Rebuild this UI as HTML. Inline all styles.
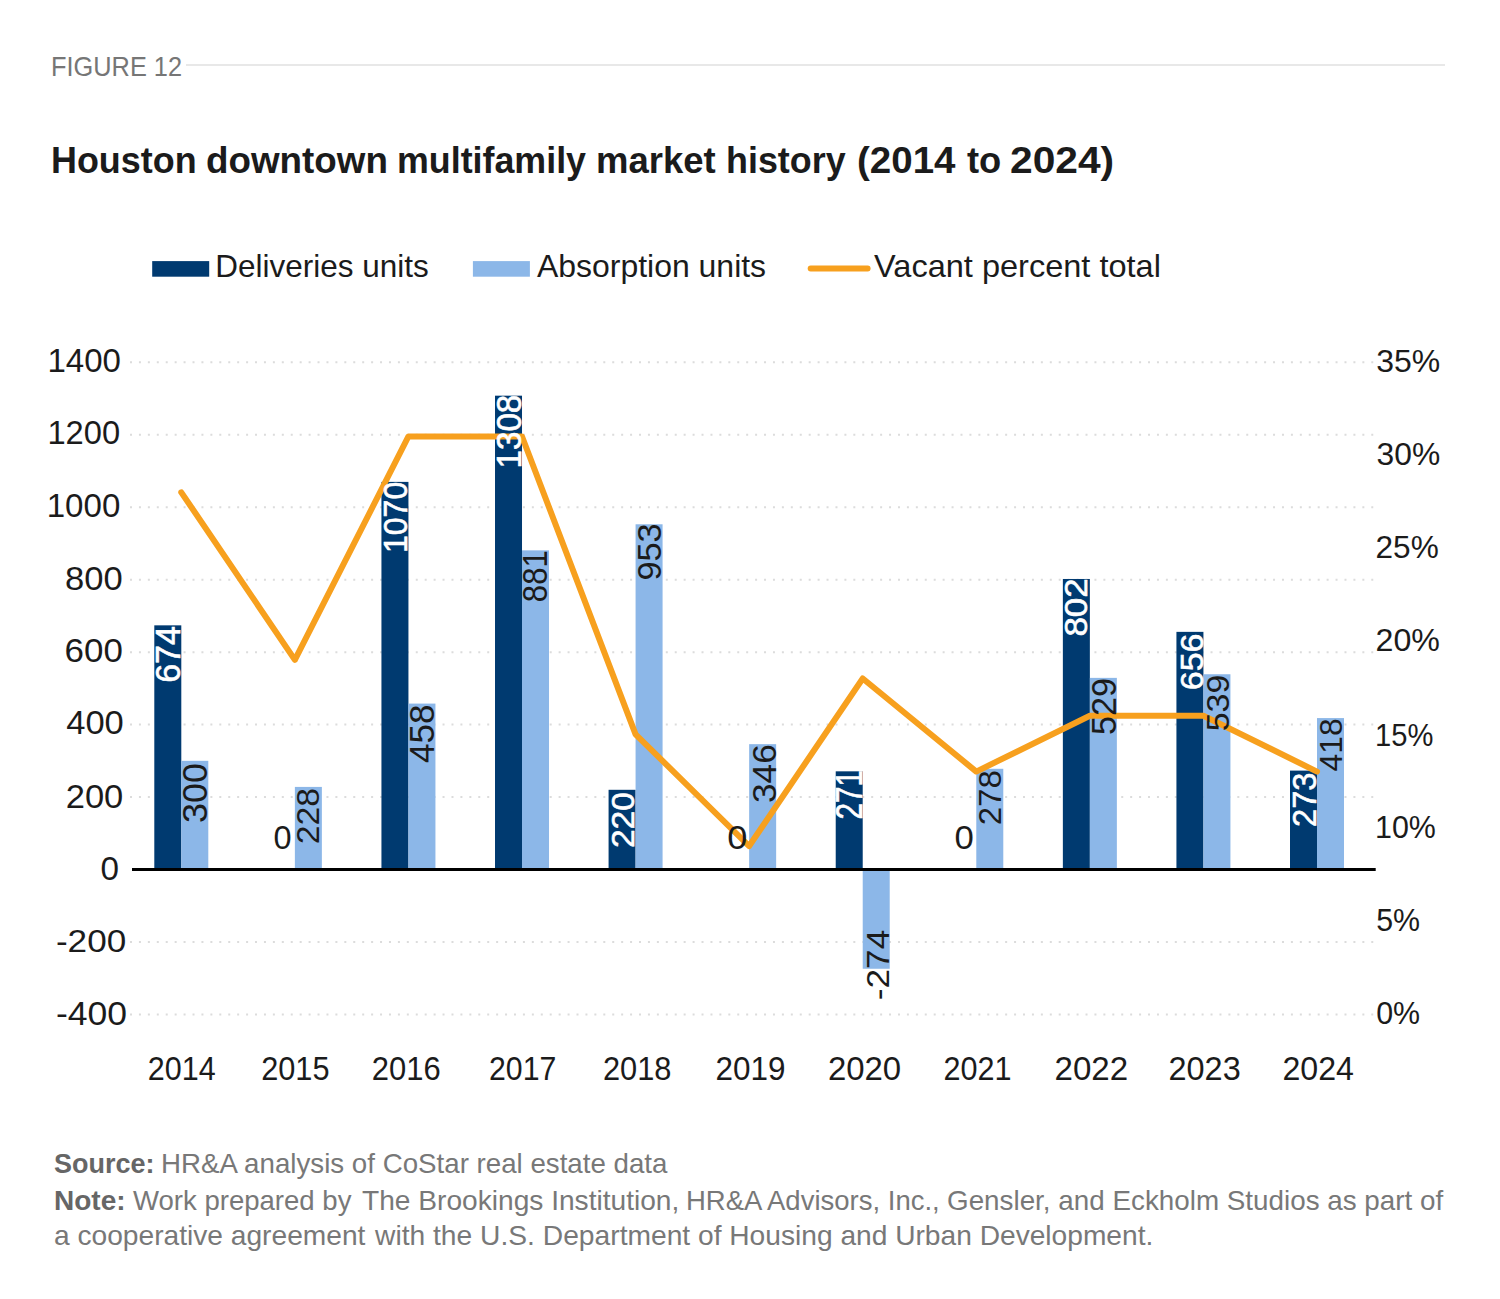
<!DOCTYPE html><html><head><meta charset="utf-8"><style>html,body{margin:0;padding:0;background:#fff;}body{width:1500px;height:1299px;overflow:hidden;position:relative;}svg{position:absolute;left:0;top:0;display:block;}text{font-family:"Liberation Sans",sans-serif;}</style></head><body>
<svg width="1500" height="1299" viewBox="0 0 1500 1299">
<text x="51.00" y="76.00" font-size="27.80" fill="#767676" textLength="131.09" lengthAdjust="spacingAndGlyphs">FIGURE 12</text>
<rect x="186" y="64.2" width="1259" height="1.6" fill="#e3e3e3"/>
<text x="51.00" y="173.40" font-size="36.30" fill="#1b1b1b" font-weight="bold" textLength="145.59" lengthAdjust="spacingAndGlyphs">Houston</text>
<text x="206.00" y="173.40" font-size="36.30" fill="#1b1b1b" font-weight="bold" textLength="181.91" lengthAdjust="spacingAndGlyphs">downtown</text>
<text x="397.00" y="173.40" font-size="36.30" fill="#1b1b1b" font-weight="bold" textLength="189.03" lengthAdjust="spacingAndGlyphs">multifamily</text>
<text x="596.00" y="173.40" font-size="36.30" fill="#1b1b1b" font-weight="bold" textLength="119.64" lengthAdjust="spacingAndGlyphs">market</text>
<text x="726.00" y="173.40" font-size="36.30" fill="#1b1b1b" font-weight="bold" textLength="119.63" lengthAdjust="spacingAndGlyphs">history</text>
<text x="857.00" y="173.40" font-size="36.30" fill="#1b1b1b" font-weight="bold" textLength="98.48" lengthAdjust="spacingAndGlyphs">(2014</text>
<text x="967.00" y="173.40" font-size="36.30" fill="#1b1b1b" font-weight="bold" textLength="34.31" lengthAdjust="spacingAndGlyphs">to</text>
<text x="1010.00" y="173.40" font-size="36.30" fill="#1b1b1b" font-weight="bold" textLength="104.18" lengthAdjust="spacingAndGlyphs">2024)</text>
<rect x="152.2" y="261.1" width="57" height="15.6" fill="#003a70"/>
<text x="215.30" y="277.30" font-size="30.50" fill="#1b1b1b" textLength="213.57" lengthAdjust="spacingAndGlyphs">Deliveries units</text>
<rect x="472.9" y="261.1" width="57" height="15.6" fill="#8cb7e8"/>
<text x="537.00" y="277.30" font-size="30.50" fill="#1b1b1b" textLength="229.09" lengthAdjust="spacingAndGlyphs">Absorption units</text>
<line x1="810.7" y1="268.6" x2="867.6" y2="268.6" stroke="#f7a01e" stroke-width="6" stroke-linecap="round"/>
<text x="874.10" y="277.30" font-size="30.50" fill="#1b1b1b" textLength="286.79" lengthAdjust="spacingAndGlyphs">Vacant percent total</text>
<line x1="130" y1="362.35" x2="1374" y2="362.35" stroke="#dcdcdc" stroke-width="2" stroke-dasharray="2 6.93"/>
<line x1="130" y1="434.80" x2="1374" y2="434.80" stroke="#dcdcdc" stroke-width="2" stroke-dasharray="2 6.93"/>
<line x1="130" y1="507.25" x2="1374" y2="507.25" stroke="#dcdcdc" stroke-width="2" stroke-dasharray="2 6.93"/>
<line x1="130" y1="579.70" x2="1374" y2="579.70" stroke="#dcdcdc" stroke-width="2" stroke-dasharray="2 6.93"/>
<line x1="130" y1="652.15" x2="1374" y2="652.15" stroke="#dcdcdc" stroke-width="2" stroke-dasharray="2 6.93"/>
<line x1="130" y1="724.60" x2="1374" y2="724.60" stroke="#dcdcdc" stroke-width="2" stroke-dasharray="2 6.93"/>
<line x1="130" y1="797.05" x2="1374" y2="797.05" stroke="#dcdcdc" stroke-width="2" stroke-dasharray="2 6.93"/>
<line x1="130" y1="941.95" x2="1374" y2="941.95" stroke="#dcdcdc" stroke-width="2" stroke-dasharray="2 6.93"/>
<line x1="130" y1="1014.40" x2="1374" y2="1014.40" stroke="#dcdcdc" stroke-width="2" stroke-dasharray="2 6.93"/>
<rect x="154.30" y="625.34" width="27.0" height="244.16" fill="#003a70"/>
<rect x="181.30" y="760.83" width="27.0" height="108.67" fill="#8cb7e8"/>
<rect x="294.87" y="786.91" width="27.0" height="82.59" fill="#8cb7e8"/>
<rect x="381.44" y="481.89" width="27.0" height="387.61" fill="#003a70"/>
<rect x="408.44" y="703.59" width="27.0" height="165.91" fill="#8cb7e8"/>
<rect x="495.01" y="395.68" width="27.0" height="473.82" fill="#003a70"/>
<rect x="522.01" y="550.36" width="27.0" height="319.14" fill="#8cb7e8"/>
<rect x="608.58" y="789.80" width="27.0" height="79.70" fill="#003a70"/>
<rect x="635.58" y="524.28" width="27.0" height="345.22" fill="#8cb7e8"/>
<rect x="749.15" y="744.16" width="27.0" height="125.34" fill="#8cb7e8"/>
<rect x="835.72" y="771.33" width="27.0" height="98.17" fill="#003a70"/>
<rect x="862.72" y="869.50" width="27.0" height="99.26" fill="#8cb7e8"/>
<rect x="976.29" y="768.79" width="27.0" height="100.71" fill="#8cb7e8"/>
<rect x="1062.86" y="578.98" width="27.0" height="290.52" fill="#003a70"/>
<rect x="1089.86" y="677.87" width="27.0" height="191.63" fill="#8cb7e8"/>
<rect x="1176.43" y="631.86" width="27.0" height="237.64" fill="#003a70"/>
<rect x="1203.43" y="674.25" width="27.0" height="195.25" fill="#8cb7e8"/>
<rect x="1290.00" y="770.61" width="27.0" height="98.89" fill="#003a70"/>
<rect x="1317.00" y="718.08" width="27.0" height="151.42" fill="#8cb7e8"/>
<rect x="132" y="868.00" width="1243.7" height="3" fill="#000"/>
<polyline points="181.30,492.32 294.87,659.87 408.44,436.47 522.01,436.47 635.58,734.34 749.15,846.05 862.72,678.49 976.29,771.58 1089.86,715.73 1203.43,715.73 1317.00,771.58" fill="none" stroke="#f7a01e" stroke-width="6" stroke-linejoin="round" stroke-linecap="round"/>
<text x="47.40" y="372.00" font-size="32.90" fill="#1b1b1b" textLength="73.53" lengthAdjust="spacingAndGlyphs">1400</text>
<text x="47.40" y="444.00" font-size="32.90" fill="#1b1b1b" textLength="72.75" lengthAdjust="spacingAndGlyphs">1200</text>
<text x="46.70" y="516.90" font-size="32.90" fill="#1b1b1b" textLength="73.59" lengthAdjust="spacingAndGlyphs">1000</text>
<text x="65.10" y="589.50" font-size="32.93" fill="#1b1b1b" textLength="57.66" lengthAdjust="spacingAndGlyphs">800</text>
<text x="64.60" y="662.10" font-size="32.95" fill="#1b1b1b" textLength="58.30" lengthAdjust="spacingAndGlyphs">600</text>
<text x="66.20" y="734.40" font-size="32.98" fill="#1b1b1b" textLength="57.64" lengthAdjust="spacingAndGlyphs">400</text>
<text x="65.70" y="807.60" font-size="32.90" fill="#1b1b1b" textLength="57.66" lengthAdjust="spacingAndGlyphs">200</text>
<text x="100.40" y="879.50" font-size="32.95" fill="#1b1b1b" textLength="18.49" lengthAdjust="spacingAndGlyphs">0</text>
<text x="55.90" y="952.20" font-size="31.50" fill="#1b1b1b" textLength="70.33" lengthAdjust="spacingAndGlyphs">-200</text>
<text x="55.90" y="1024.90" font-size="32.97" fill="#1b1b1b" textLength="71.16" lengthAdjust="spacingAndGlyphs">-400</text>
<text x="1376.30" y="372.00" font-size="32.18" fill="#1b1b1b" textLength="64.03" lengthAdjust="spacingAndGlyphs">35%</text>
<text x="1376.50" y="464.60" font-size="32.15" fill="#1b1b1b" textLength="63.67" lengthAdjust="spacingAndGlyphs">30%</text>
<text x="1375.50" y="558.00" font-size="32.15" fill="#1b1b1b" textLength="63.23" lengthAdjust="spacingAndGlyphs">25%</text>
<text x="1375.50" y="651.40" font-size="32.15" fill="#1b1b1b" textLength="64.38" lengthAdjust="spacingAndGlyphs">20%</text>
<text x="1375.00" y="746.20" font-size="32.15" fill="#1b1b1b" textLength="58.29" lengthAdjust="spacingAndGlyphs">15%</text>
<text x="1375.00" y="838.30" font-size="32.15" fill="#1b1b1b" textLength="60.86" lengthAdjust="spacingAndGlyphs">10%</text>
<text x="1376.20" y="931.30" font-size="32.17" fill="#1b1b1b" textLength="43.91" lengthAdjust="spacingAndGlyphs">5%</text>
<text x="1376.20" y="1024.40" font-size="32.15" fill="#1b1b1b" textLength="43.93" lengthAdjust="spacingAndGlyphs">0%</text>
<text x="147.80" y="1079.50" font-size="32.35" fill="#1b1b1b" textLength="67.88" lengthAdjust="spacingAndGlyphs">2014</text>
<text x="261.20" y="1079.50" font-size="32.35" fill="#1b1b1b" textLength="68.37" lengthAdjust="spacingAndGlyphs">2015</text>
<text x="371.80" y="1079.50" font-size="32.35" fill="#1b1b1b" textLength="68.93" lengthAdjust="spacingAndGlyphs">2016</text>
<text x="489.00" y="1079.50" font-size="32.35" fill="#1b1b1b" textLength="67.26" lengthAdjust="spacingAndGlyphs">2017</text>
<text x="602.90" y="1079.50" font-size="32.35" fill="#1b1b1b" textLength="68.51" lengthAdjust="spacingAndGlyphs">2018</text>
<text x="715.50" y="1079.50" font-size="32.35" fill="#1b1b1b" textLength="69.96" lengthAdjust="spacingAndGlyphs">2019</text>
<text x="827.90" y="1079.50" font-size="32.35" fill="#1b1b1b" textLength="73.31" lengthAdjust="spacingAndGlyphs">2020</text>
<text x="943.50" y="1079.50" font-size="32.35" fill="#1b1b1b" textLength="68.08" lengthAdjust="spacingAndGlyphs">2021</text>
<text x="1054.50" y="1079.50" font-size="32.35" fill="#1b1b1b" textLength="73.59" lengthAdjust="spacingAndGlyphs">2022</text>
<text x="1168.50" y="1079.50" font-size="32.35" fill="#1b1b1b" textLength="72.23" lengthAdjust="spacingAndGlyphs">2023</text>
<text x="1282.40" y="1079.50" font-size="32.35" fill="#1b1b1b" textLength="71.49" lengthAdjust="spacingAndGlyphs">2024</text>
<text transform="translate(180.20,682.80) rotate(-90)" font-size="35.06" fill="#fff" stroke="#fff" stroke-width="0.6" textLength="56.75" lengthAdjust="spacingAndGlyphs">674</text>
<text transform="translate(207.40,822.90) rotate(-90)" font-size="35.13" fill="#1b1b1b" textLength="59.95" lengthAdjust="spacingAndGlyphs">300</text>
<text transform="translate(319.10,844.30) rotate(-90)" font-size="30.86" fill="#1b1b1b" textLength="56.23" lengthAdjust="spacingAndGlyphs">228</text>
<text transform="translate(407.30,553.00) rotate(-90)" font-size="33.63" fill="#fff" stroke="#fff" stroke-width="0.6" textLength="71.21" lengthAdjust="spacingAndGlyphs">1070</text>
<text transform="translate(434.10,763.00) rotate(-90)" font-size="35.30" fill="#1b1b1b" textLength="58.49" lengthAdjust="spacingAndGlyphs">458</text>
<text transform="translate(520.50,468.50) rotate(-90)" font-size="35.13" fill="#fff" stroke="#fff" stroke-width="0.6" textLength="73.77" lengthAdjust="spacingAndGlyphs">1308</text>
<text transform="translate(547.00,602.20) rotate(-90)" font-size="35.09" fill="#1b1b1b" textLength="51.98" lengthAdjust="spacingAndGlyphs">881</text>
<text transform="translate(633.70,848.00) rotate(-90)" font-size="32.22" fill="#fff" stroke="#fff" stroke-width="0.6" textLength="55.86" lengthAdjust="spacingAndGlyphs">220</text>
<text transform="translate(661.20,580.60) rotate(-90)" font-size="33.60" fill="#1b1b1b" textLength="57.23" lengthAdjust="spacingAndGlyphs">953</text>
<text transform="translate(775.70,803.10) rotate(-90)" font-size="33.63" fill="#1b1b1b" textLength="58.89" lengthAdjust="spacingAndGlyphs">346</text>
<text transform="translate(862.20,819.50) rotate(-90)" font-size="36.72" fill="#fff" stroke="#fff" stroke-width="0.6" textLength="49.44" lengthAdjust="spacingAndGlyphs">271</text>
<text transform="translate(888.80,1000.30) rotate(-90)" font-size="32.21" fill="#1b1b1b" textLength="70.69" lengthAdjust="spacingAndGlyphs">-274</text>
<text transform="translate(1001.40,825.30) rotate(-90)" font-size="32.22" fill="#1b1b1b" textLength="55.14" lengthAdjust="spacingAndGlyphs">278</text>
<text transform="translate(1087.30,636.60) rotate(-90)" font-size="32.17" fill="#fff" stroke="#fff" stroke-width="0.6" textLength="58.29" lengthAdjust="spacingAndGlyphs">802</text>
<text transform="translate(1115.50,735.00) rotate(-90)" font-size="35.09" fill="#1b1b1b" textLength="57.07" lengthAdjust="spacingAndGlyphs">529</text>
<text transform="translate(1202.80,690.20) rotate(-90)" font-size="32.17" fill="#fff" stroke="#fff" stroke-width="0.6" textLength="56.69" lengthAdjust="spacingAndGlyphs">656</text>
<text transform="translate(1228.80,731.30) rotate(-90)" font-size="32.22" fill="#1b1b1b" textLength="56.70" lengthAdjust="spacingAndGlyphs">539</text>
<text transform="translate(1315.50,826.90) rotate(-90)" font-size="33.60" fill="#fff" stroke="#fff" stroke-width="0.6" textLength="54.33" lengthAdjust="spacingAndGlyphs">273</text>
<text transform="translate(1341.70,771.40) rotate(-90)" font-size="32.21" fill="#1b1b1b" textLength="53.02" lengthAdjust="spacingAndGlyphs">418</text>
<text x="273.50" y="848.80" font-size="33.07" fill="#1b1b1b" textLength="18.07" lengthAdjust="spacingAndGlyphs">0</text>
<text x="727.30" y="849.00" font-size="33.08" fill="#1b1b1b" textLength="20.13" lengthAdjust="spacingAndGlyphs">0</text>
<text x="954.50" y="848.80" font-size="33.03" fill="#1b1b1b" textLength="19.33" lengthAdjust="spacingAndGlyphs">0</text>
<text x="54.00" y="1172.50" font-size="27.80" fill="#666666" font-weight="bold" textLength="100.45" lengthAdjust="spacingAndGlyphs">Source:</text>
<text x="161.00" y="1172.50" font-size="27.80" fill="#787878" textLength="506.47" lengthAdjust="spacingAndGlyphs">HR&amp;A analysis of CoStar real estate data</text>
<text x="54.00" y="1209.60" font-size="27.80" fill="#666666" font-weight="bold" textLength="71.56" lengthAdjust="spacingAndGlyphs">Note:</text>
<text x="133.00" y="1209.60" font-size="27.80" fill="#787878" textLength="218.41" lengthAdjust="spacingAndGlyphs">Work prepared by</text>
<text x="362.00" y="1209.60" font-size="27.80" fill="#787878" textLength="317.33" lengthAdjust="spacingAndGlyphs">The Brookings Institution,</text>
<text x="686.00" y="1209.60" font-size="27.80" fill="#787878" textLength="253.72" lengthAdjust="spacingAndGlyphs">HR&amp;A Advisors, Inc.,</text>
<text x="947.00" y="1209.60" font-size="27.80" fill="#787878" textLength="496.22" lengthAdjust="spacingAndGlyphs">Gensler, and Eckholm Studios as part of</text>
<text x="54.00" y="1245.30" font-size="27.80" fill="#787878" textLength="311.37" lengthAdjust="spacingAndGlyphs">a cooperative agreement</text>
<text x="375.00" y="1245.30" font-size="27.80" fill="#787878" textLength="315.20" lengthAdjust="spacingAndGlyphs">with the U.S. Department</text>
<text x="698.00" y="1245.30" font-size="27.80" fill="#787878" textLength="455.32" lengthAdjust="spacingAndGlyphs">of Housing and Urban Development.</text>
</svg></body></html>
